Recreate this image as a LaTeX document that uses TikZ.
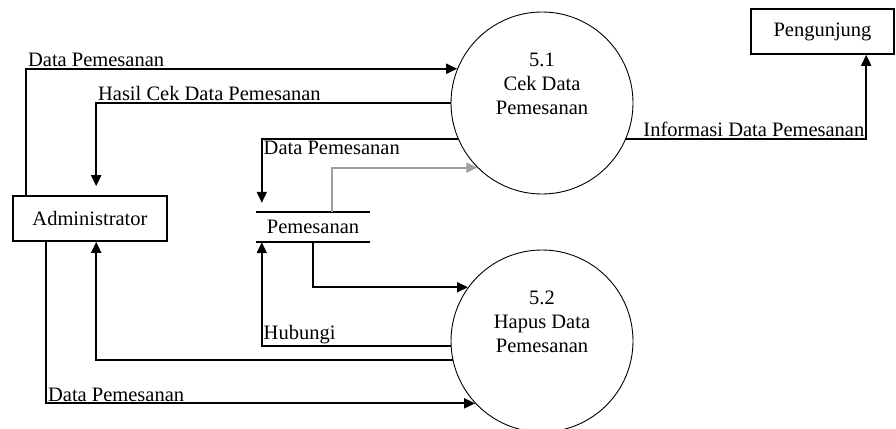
\documentclass[tikz,border=0pt]{standalone}
\usepackage{fontspec}
\setmainfont{Liberation Serif}
\usepackage{tikz}
\usetikzlibrary{arrows.meta, positioning}
\tikzstyle{entity} = [rectangle, minimum width=154pt, minimum height=45pt, text centered, draw=black, line width=1.6pt]
\tikzstyle{process} = [circle, minimum size=182pt, draw=black, line width=0.9pt]
\tikzstyle{datastore} = [rectangle, minimum width=114pt, minimum height=30pt, text centered]
\tikzstyle{flow} = [->, line width=1.8pt]
\tikzstyle{lbl} = [inner sep=1pt]

\begin{document}
\begin{tikzpicture}[x=1pt, y=-1pt, >={Triangle[length=11pt,width=10pt]}, font=\fontsize{20.5}{24}\selectfont]
        \useasboundingbox (0,0) rectangle (896,428);
        \node[entity] (admin) at (90,218.5) {Administrator};
        \node[entity, minimum width=143pt] (pengunjung) at (822.5,31.5) {Pengunjung};
        \node[process, label={[align=center, yshift=19pt]center:5.1\\Cek Data\\Pemesanan}] (cek) at (542,103) {};
        \node[process, label={[align=center, yshift=19pt]center:5.2\\Hapus Data\\Pemesanan}] (hapus) at (542,341) {};
        \node[datastore] (pemesanan) at (313,227) {Pemesanan};
        \draw[line width=1.6pt] (pemesanan.north west) -- (pemesanan.north east)
            (pemesanan.south west) -- (pemesanan.south east);

        \draw[flow] ([xshift=14pt]admin.north west) |- node[lbl, pos=0.5, anchor=south west] {Data Pemesanan} (cek.158);
        \draw[flow, shorten >=9pt] (cek.west) -| node[lbl, pos=0.5, anchor=south west] {Hasil Cek Data Pemesanan} ([xshift=84pt]admin.north west);
        \draw[flow, shorten >=9pt] (cek.203) -| node[lbl, pos=0.5, anchor=north west] {Data Pemesanan} ([xshift=6pt]pemesanan.north west);
        \draw[flow, gray!75] ([xshift=76pt]pemesanan.north west) |- (cek.225);
        \draw[flow] (pemesanan.south) |- (hapus.144);
        \draw[flow] (hapus.183) -| node[lbl, pos=0.5, anchor=south west] {Hubungi} ([xshift=6pt]pemesanan.south west);
        \draw[flow] (hapus.192) -| ([xshift=84pt]admin.south west);
        \draw[flow] ([xshift=34pt]admin.south west) |- node[lbl, pos=0.5, anchor=south west] {Data Pemesanan} (hapus.223);
        \draw[flow] (cek.337) -| node[lbl, pos=0.5, anchor=south east] {Informasi Data Pemesanan} ([xshift=116pt]pengunjung.south west);
    \end{tikzpicture}
\end{document}
